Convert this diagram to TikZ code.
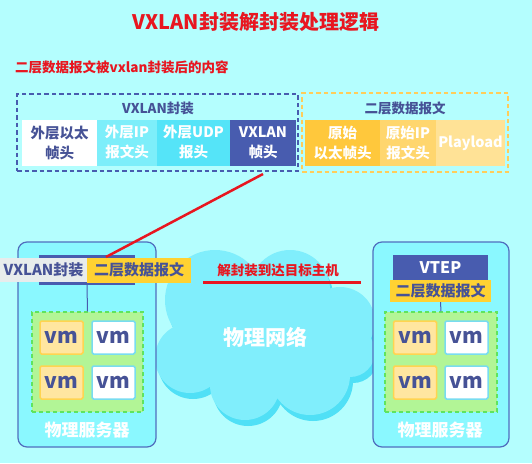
\documentclass[tikz,border=0pt]{standalone}
\usepackage{fontspec}
\setmainfont{Noto Sans CJK SC}
\definecolor{bg}{RGB}{180,254,254}
\definecolor{srvfill}{RGB}{138,248,255}
\definecolor{srvline}{RGB}{80,110,190}
\definecolor{dkblue}{RGB}{72,92,175}
\definecolor{txtblue}{RGB}{70,82,150}
\definecolor{redc}{RGB}{232,22,32}
\definecolor{cyan1}{RGB}{125,238,250}
\definecolor{cyan2}{RGB}{85,228,248}
\definecolor{or1}{RGB}{255,200,60}
\definecolor{or2}{RGB}{255,214,110}
\definecolor{or3}{RGB}{255,226,150}
\definecolor{orline}{RGB}{255,205,90}
\definecolor{ylab}{RGB}{255,210,50}
\definecolor{glab}{RGB}{232,236,236}
\definecolor{grfill}{RGB}{178,245,150}
\definecolor{grline}{RGB}{95,228,95}
\definecolor{vmy}{RGB}{255,230,160}
\definecolor{vmyl}{RGB}{255,212,80}
\definecolor{vmwl}{RGB}{120,220,240}
\definecolor{cloudc}{RGB}{128,238,252}
\definecolor{clouds}{RGB}{80,224,246}
\begin{document}
\begin{tikzpicture}[x=1pt,y=-1pt,
  fld/.style={rectangle, inner sep=0pt, align=center, font=\fontsize{14.5}{20}\selectfont\bfseries},
  lab/.style={rectangle, inner sep=0pt, font=\fontsize{15}{18}\selectfont\bfseries, text=txtblue},
  srv/.style={draw=srvline, line width=1.2pt, fill=srvfill, rounded corners=9pt},
  grbox/.style={draw=grline, fill=grfill, line width=1.5pt, dash pattern=on 4pt off 3pt},
  vmy/.style={rectangle, draw=vmyl, fill=vmy, line width=1.5pt, rounded corners=1.5pt, minimum width=43pt, minimum height=33pt, inner sep=0pt, font=\fontsize{21}{21}\selectfont\bfseries, text=txtblue},
  vmw/.style={rectangle, draw=vmwl, fill=white, line width=1.5pt, rounded corners=1.5pt, minimum width=43pt, minimum height=33pt, inner sep=0pt, font=\fontsize{21}{21}\selectfont\bfseries, text=txtblue},
  wlab/.style={text=white, font=\fontsize{17}{17}\selectfont\bfseries, inner sep=0pt},
  redt/.style={text=redc, inner sep=0pt}
]
\fill[bg] (0,0) rectangle (532,463);
\useasboundingbox (0,0) rectangle (532,463);

% titles
\node[redt, font=\fontsize{20}{20}\selectfont\bfseries] (title) at (256,22) {VXLAN封装解封装处理逻辑};
\node[redt, font=\fontsize{13.5}{14}\selectfont\bfseries, anchor=west] (sub) at (15,67) {二层数据报文被vxlan封装后的内容};

% VXLAN encapsulation box
\node[rectangle, draw=dkblue, line width=1.5pt, dash pattern=on 4.5pt off 3pt, minimum width=281pt, minimum height=77pt, inner sep=0pt] (vxbox) at (157.5,132.5) {};
\node[lab, font=\fontsize{13.5}{14}\selectfont\bfseries] (vxlab) at (158,108) {VXLAN封装};
\node[fld, fill=white, text=txtblue, minimum width=75pt, minimum height=46pt] (f1) at (59.5,142.5) {外层以太\\帧头};
\node[fld, fill=cyan1, text=white, minimum width=60pt, minimum height=46pt] (f2) at (127,142.5) {外层IP\\报文头};
\node[fld, fill=cyan2, text=white, minimum width=73pt, minimum height=46pt] (f3) at (193.5,142.5) {外层UDP\\报头};
\node[fld, fill=dkblue, text=white, minimum width=66pt, minimum height=46pt] (f4) at (263,142.5) {VXLAN\\帧头};

% L2 frame box
\node[rectangle, draw=orline, line width=1.5pt, dash pattern=on 4.5pt off 3pt, minimum width=206pt, minimum height=79pt, inner sep=0pt] (l2box) at (405,132.5) {};
\node[lab, font=\fontsize{13.5}{14}\selectfont\bfseries] (l2lab) at (405,108) {二层数据报文};
\node[fld, fill=or1, text=white, minimum width=75pt, minimum height=46pt] (f5) at (342.5,143) {原始\\以太帧头};
\node[fld, fill=or2, text=white, minimum width=56pt, minimum height=46pt] (f6) at (408,143) {原始IP\\报文头};
\node[fld, fill=or3, text=white, minimum width=69pt, minimum height=46pt] (f7) at (470.5,143) {Playload};

% cloud
\begin{scope}[shift={(3,6)}]
\fill[clouds] (215,300) circle (50) (290,290) circle (40) (340,322) circle (35)
  (190,358) circle (35) (245,385) circle (35) (310,375) circle (40) (350,352) circle (25) (260,340) circle (50);
\end{scope}
\fill[cloudc] (215,300) circle (50) (290,290) circle (40) (340,322) circle (35)
  (190,358) circle (35) (245,385) circle (35) (310,375) circle (40) (350,352) circle (25) (260,340) circle (50);
\node[wlab, font=\fontsize{21}{21}\selectfont\bfseries] (net) at (265,337) {物理网络};

% left server
\node[srv, minimum width=138pt, minimum height=205pt, inner sep=0pt] (ls) at (87,344.5) {};
\node[rectangle, fill=dkblue, minimum width=96pt, minimum height=30pt, inner sep=0pt] (lbar) at (87,270) {};
\node[lab, fill=glab, minimum width=87pt, minimum height=24pt] (lg) at (43.5,269.5) {VXLAN封装};
\node[lab, fill=ylab, minimum width=104pt, minimum height=25pt] (ly) at (139,270) {二层数据报文};
\node[grbox, minimum width=111pt, minimum height=100pt, inner sep=0pt] (lgr) at (87.5,362) {};
\draw[dkblue, line width=1pt] (lbar.south) -- (lgr.north);
\node[vmy] (lv1) at (61.5,337.5) {vm};
\node[vmw] (lv2) at (113.5,337.5) {vm};
\node[vmy] (lv3) at (61.5,382.5) {vm};
\node[vmw] (lv4) at (113.5,382.5) {vm};
\node[wlab] (lsl) at (87,430) {物理服务器};

% right server
\node[srv, minimum width=136pt, minimum height=205pt, inner sep=0pt] (rs) at (441,344.5) {};
\node[rectangle, fill=dkblue, minimum width=95pt, minimum height=26pt, inner sep=0pt, text=white, font=\fontsize{16}{16}\selectfont\bfseries] (vtep) at (440.5,268) {VTEP};
\node[lab, fill=ylab, minimum width=101pt, minimum height=22pt] (ry) at (440.5,291) {二层数据报文};
\node[grbox, minimum width=112pt, minimum height=100pt, inner sep=0pt] (rgr) at (441,362) {};
\draw[dkblue, line width=1pt] (ry.south) -- (rgr.north);
\node[vmy] (rv1) at (415,337.5) {vm};
\node[vmw] (rv2) at (466.5,337.5) {vm};
\node[vmy] (rv3) at (415,382.5) {vm};
\node[vmw] (rv4) at (466.5,382.5) {vm};
\node[wlab] (rsl) at (440,430) {物理服务器};

% red annotations
\coordinate (rs1) at (263,174);
\coordinate (re1) at (106,257);
\draw[redc, line width=2.5pt] (rs1) -- (re1);
\node[redt, font=\fontsize{13.5}{14}\selectfont\bfseries] (dec) at (278,270) {解封装到达目标主机};
\coordinate (u1) at (203,282);
\coordinate (u2) at (361,282);
\draw[redc, line width=3pt] (u1) -- (u2);
\end{tikzpicture}
\end{document}
